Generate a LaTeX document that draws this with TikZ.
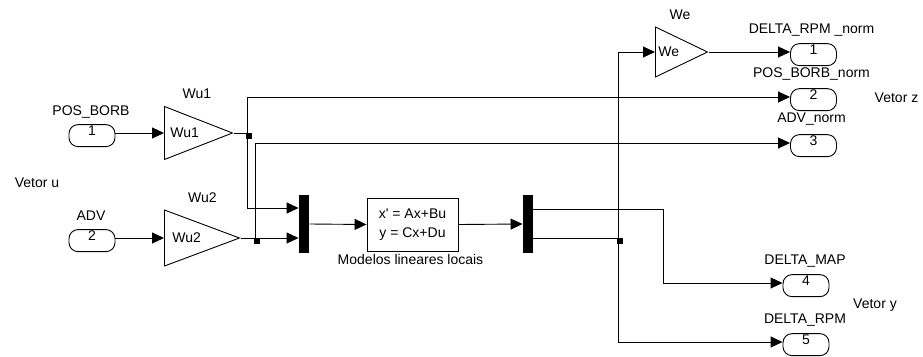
\documentclass[tikz,border=0pt]{standalone}
\usepackage{fontspec}
\setmainfont{Liberation Sans}
\usetikzlibrary{arrows.meta, positioning, shapes.geometric}

\begin{document}
\begin{tikzpicture}[
  x=1pt, y=-1pt,
  font=\fontsize{14}{16}\selectfont,
  line width=0.9pt,
  sig/.style={-{Triangle[length=12pt, width=11pt]}},
  port/.style={draw, rectangle, rounded corners=9pt, minimum width=46pt, inner sep=0pt,
               text height=11pt, text depth=11pt, anchor=mid},
  gain/.style={draw, isosceles triangle, isosceles triangle stretches, inner sep=0pt, anchor=west},
  muxbar/.style={fill=black, minimum width=10pt, minimum height=58pt, inner sep=0pt},
  ssbox/.style={draw, minimum width=91pt, minimum height=53pt, inner sep=0pt, align=center,
                font=\fontsize{14}{19}\selectfont},
  dot/.style={fill=black, minimum size=6pt, inner sep=0pt},
  lbl/.style={inner sep=0pt, anchor=base}
]
  \useasboundingbox (0,0) rectangle (923,356);

  \node[port] (in1) at (92,133) {1};
  \node[port] (in2) at (92,238) {2};
  \node[lbl] (in1l) at (91,115) {POS\_BORB};
  \node[lbl] (in2l) at (91,220) {ADV};
  \node[lbl] (vu) at (37,187) {Vetor u};

  \node[gain, minimum height=68pt, minimum width=53pt] (wu1) at (164,133) {};
  \node[gain, minimum height=75pt, minimum width=56pt] (wu2) at (164,238) {};
  \node[gain, minimum height=52pt, minimum width=50pt] (we) at (655,52) {};
  \node[anchor=west, inner sep=0pt] (wu1t) at ([xshift=6pt]wu1.west) {Wu1};
  \node[anchor=west, inner sep=0pt] (wu2t) at ([xshift=8pt]wu2.west) {Wu2};
  \node[anchor=west, inner sep=0pt] (wet) at ([xshift=3pt]we.west) {We};
  \node[lbl] (wu1l) at (197,98) {Wu1};
  \node[lbl] (wu2l) at (202.5,202) {Wu2};
  \node[lbl] (wel) at (680,19.5) {We};

  \node[muxbar] (mux1) at (304,224) {};
  \node[ssbox] (ss) at (412.5,224.5) {x\textquotesingle{} = Ax+Bu\\ y = Cx+Du};
  \node[lbl] (ssl) at (410.5,264) {Modelos lineares locais};
  \node[muxbar] (mux2) at (528,224) {};

  \node[port] (out1) at (813.5,52) {1};
  \node[port] (out2) at (813.5,97) {2};
  \node[port] (out3) at (813.5,143) {3};
  \node[port] (out4) at (806,283) {4};
  \node[port] (out5) at (806,342) {5};
  \node[lbl] (out1l) at (811.5,33) {DELTA\_RPM \_norm};
  \node[lbl] (out2l) at (811.5,77) {POS\_BORB\_norm};
  \node[lbl] (out3l) at (811.5,122) {ADV\_norm};
  \node[lbl] (out4l) at (805,264) {DELTA\_MAP};
  \node[lbl] (out5l) at (805,323) {DELTA\_RPM};
  \node[lbl] (vz) at (896.5,102) {Vetor z};
  \node[lbl] (vy) at (875,308) {Vetor y};

  \coordinate (b1) at (247,133);
  \coordinate (b2) at (255,238);
  \coordinate (b3) at (618,238);
  \coordinate (k4) at (663,283);
  \node[dot] (d1) at ([xshift=1.5pt, yshift=-2.5pt]b1) {};
  \node[dot] (d2) at ([xshift=1.5pt, yshift=-2.5pt]b2) {};
  \node[dot] (d3) at ([xshift=1.5pt, yshift=-2.5pt]b3) {};

  \draw[sig] (in1.mid east) -- (wu1.west);
  \draw[sig] (in2.mid east) -- (wu2.west);
  \draw (wu1.east) -- (b1);
  \draw (wu2.east) -- (b2);
  \draw[sig] (b1) |- (out2.mid west);
  \draw[sig] (b1) |- ([yshift=16pt]mux1.west);
  \draw[sig] (b2) |- (out3.mid west);
  \draw[sig] (b2) -- ([yshift=-14pt]mux1.west);
  \draw[sig] (mux1.east) -- (ss.west);
  \draw[sig] (ss.east) -- (mux2.west);
  \draw[sig] ([yshift=15pt]mux2.east) -| (k4) -- (out4.mid west);
  \draw ([yshift=-14pt]mux2.east) -- (b3);
  \draw[sig] (b3) |- (we.west);
  \draw[sig] (b3) |- (out5.mid west);
  \draw[sig] (we.east) -- (out1.mid west);
\end{tikzpicture}
\end{document}
